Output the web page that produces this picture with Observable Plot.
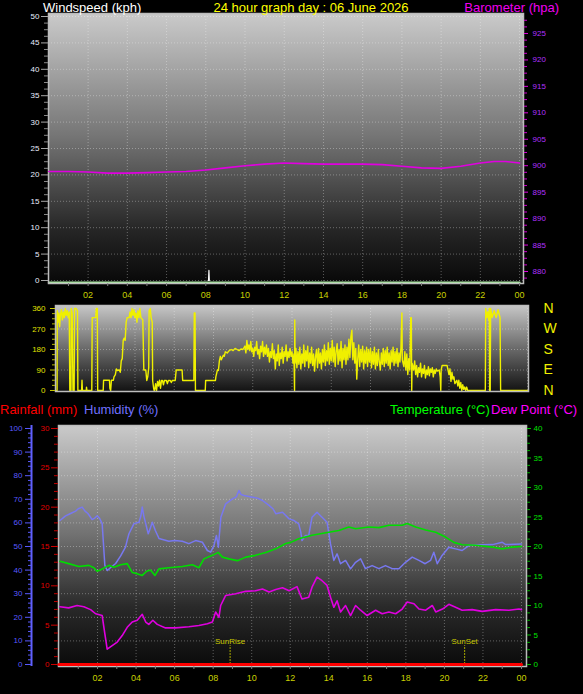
<!DOCTYPE html>
<html><head><meta charset="utf-8">
<script src="https://cdn.jsdelivr.net/npm/d3@7"></script>
<script src="https://cdn.jsdelivr.net/npm/@observablehq/plot@0.6"></script>
<style>
html,body{margin:0;padding:0;background:#000;}
#chart{position:relative;width:583px;height:694px;background:#000;overflow:hidden;font-family:"Liberation Sans",Arial,sans-serif;}
.lbl{position:absolute;font-size:13px;line-height:16px;white-space:nowrap;}
</style></head><body><div id="chart"></div>
<script>
// ---------- labels ----------
const titleText = "24 hour graph day : 06 June 2026";
const windTitle = "Windspeed (kph)";
const baroTitle = "Barometer (hpa)";
const rainTitle = "Rainfall (mm)";
const humTitle = "Humidity (%)";
const tempTitle = "Temperature (°C)";
const dewTitle = "Dew Point (°C)";

// ---------- ticks ----------
const hourTicks = [2,4,6,8,10,12,14,16,18,20,22,24];
const hourLabels = ["02","04","06","08","10","12","14","16","18","20","22","00"];
const hourMinor = [1,3,5,7,9,11,13,15,17,19,21,23];
const windTicks = [0,5,10,15,20,25,30,35,40,45,50];
const baroTicks = [880,885,890,895,900,905,910,915,920,925];
const dirTicks = [0,90,180,270,360];
const compassLabels = ["N","E","S","W","N"];
const humTicks = [0,10,20,30,40,50,60,70,80,90,100];
const rainTicks = [0,5,10,15,20,25,30];
const tempTicks = [0,5,10,15,20,25,30,35,40];

// ---------- top panel data ----------
const windAvgHours = [0, 24];
const windAvgValues = [0, 0];
const windGustHours = [8.14, 8.16, 8.18];
const windGustValues = [0, 1.9, 0];
const baroHours = [0,1,2,3,4,5,6,7,8,9,10,11,12,13,14,15,16,17,18,19,20,21,22,22.7,23.3,24];
const baroValues = [898.9,898.9,898.8,898.6,898.6,898.7,898.8,898.9,899.2,899.6,900.0,900.3,900.5,900.4,900.3,900.3,900.3,900.2,899.9,899.6,899.5,899.9,900.5,900.8,900.8,900.5];

// ---------- wind direction [hour, degrees] ----------
const windDirPoints = [
[0,0],[0.03,0],[0.04,350],[0.08,300],[0.12,340],[0.16,280],[0.2,330],[0.25,355],[0.3,310],[0.35,345],[0.4,320],[0.45,360],[0.5,330],[0.55,350],[0.6,320],[0.65,345],[0.68,0],[0.74,0],[0.75,360],[0.8,340],[0.84,0],[0.9,0],[0.92,360],[1.0,360],[1.07,350],[1.09,0],[1.28,0],[1.3,45],[1.32,0],[1.52,0],[1.53,15],[1.55,0],[1.8,0],[1.82,320],[2.0,320],[2.03,360],[2.08,360],[2.1,0],
[2.38,0],[2.4,45],[2.7,45],[2.72,10],[2.76,0],[2.8,45],[2.9,45],[2.93,60],[3.0,70],[3.05,95],[3.1,88],[3.2,90],[3.25,80],[3.3,130],[3.35,140],[3.4,220],[3.45,230],[3.5,220],[3.55,300],[3.6,320],[3.7,320],[3.75,345],[3.8,320],[3.85,360],[3.9,330],[3.95,355],[4.0,320],[4.05,340],[4.1,300],[4.15,350],[4.2,320],[4.25,360],[4.3,320],[4.4,310],[4.45,90],[4.55,90],[4.6,44],[4.65,60],[4.7,100],[4.72,350],[4.78,360],[4.82,320],[4.88,300],[4.9,44],[4.95,10],[4.98,0],
[5.0,0],[5.05,30],[5.1,0],[5.15,40],[5.2,20],[5.25,45],[5.3,10],[5.35,44],[5.4,44],[5.45,25],[5.5,44],[5.6,44],[5.65,30],[5.7,44],[5.8,44],[5.85,35],[5.9,44],[6.05,44],[6.1,90],[6.4,90],[6.43,44],[6.95,44],[7.0,44],[7.02,340],[7.06,340],[7.08,0],[7.58,0],[7.6,44],[8.1,44],
[8.12,60],[8.2,90],[8.25,88],[8.3,130],[8.35,150],[8.4,135],[8.5,155],[8.55,150],[8.6,170],[8.7,165],[8.8,175],[8.9,180],[9.0,175],[9.1,185],[9.2,180],[9.3,175],[9.4,182],[9.5,180],[9.6,195],[9.65,165],[9.7,220],[9.75,180],[9.8,200],[9.85,175],[9.9,215],[9.95,170],[10.0,185],[10.05,150],[10.1,190],[10.15,175],[10.2,215],[10.25,160],[10.3,180],[10.35,140],[10.4,195],[10.45,170],[10.5,215],[10.55,150],[10.6,190],[10.65,160],[10.7,200],[10.75,150],[10.8,185],[10.85,125],[10.9,170],[10.95,145],[11.0,205],[11.05,140],[11.1,175],[11.15,95],[11.2,160],[11.25,130],[11.3,200],[11.35,110],[11.4,165],[11.45,140],[11.5,190],[11.55,120],[11.6,170],[11.65,150],[11.7,200],[11.75,130],[11.8,170],[11.85,145],[11.9,185],[11.95,150],
[12.0,170],[12.05,120],[12.1,160],[12.13,0],[12.14,310],[12.16,120],[12.2,185],[12.25,100],[12.3,170],[12.35,115],[12.4,190],[12.45,95],[12.5,160],[12.55,120],[12.6,200],[12.65,105],[12.7,175],[12.75,130],[12.8,195],[12.85,100],[12.9,165],[12.95,120],[13.0,190],[13.05,110],[13.1,160],[13.15,85],[13.2,150],[13.25,180],[13.3,100],[13.35,185],[13.4,120],[13.45,165],[13.5,95],[13.55,180],[13.6,125],[13.65,200],[13.7,110],[13.75,175],[13.8,130],[13.85,210],[13.9,115],[13.95,185],[14.0,130],[14.05,220],[14.1,125],[14.15,190],[14.2,105],[14.25,175],[14.3,205],[14.35,115],[14.4,180],[14.45,130],[14.5,215],[14.55,100],[14.6,185],[14.65,135],[14.7,200],[14.75,115],[14.8,190],[14.85,135],[14.9,225],[14.95,145],[15.0,235],[15.05,265],[15.1,135],[15.15,210],[15.2,120],[15.25,185],[15.3,50],[15.35,140],[15.4,200],[15.45,105],[15.5,180],[15.55,125],[15.6,195],[15.65,95],[15.7,175],[15.75,120],[15.8,190],[15.85,105],[15.9,180],[15.95,125],[16.0,185],[16.05,100],[16.1,170],[16.15,115],[16.2,190],[16.25,95],[16.3,165],[16.35,110],[16.4,180],[16.45,125],[16.5,90],[16.55,165],[16.6,115],[16.65,185],[16.7,105],[16.75,175],[16.8,120],[16.85,190],[16.9,110],[16.95,165],[17.0,95],[17.05,175],[17.1,125],[17.15,190],[17.2,110],[17.25,170],[17.3,120],[17.35,185],[17.4,105],[17.45,165],[17.5,125],[17.55,185],[17.6,340],[17.62,135],[17.7,105],[17.75,170],[17.8,90],[17.85,160],[17.9,70],[17.95,140],[18.0,90],[18.05,320],[18.08,320],[18.1,0],[18.12,120],
[18.2,90],[18.25,130],[18.3,70],[18.35,110],[18.4,60],[18.45,100],[18.5,80],[18.55,120],[18.6,60],[18.65,95],[18.7,75],[18.75,110],[18.8,55],[18.85,90],[18.9,70],[18.95,105],[19.0,65],[19.05,95],[19.1,80],[19.15,100],[19.2,60],[19.25,90],[19.3,75],[19.35,95],[19.4,85],[19.5,90],[19.55,60],[19.58,0],[19.6,90],[19.65,110],[19.9,110],[19.95,90],[20.0,70],[20.05,95],[20.1,40],[20.15,80],[20.2,50],[20.25,60],[20.3,30],[20.4,45],[20.45,20],[20.5,45],[20.55,10],[20.6,35],[20.65,0],[20.7,25],[20.75,5],[20.8,15],[20.85,0],[20.9,15],[20.95,0],[21.85,0],[21.87,360],[21.92,320],[21.97,345],[22.02,310],[22.05,360],[22.07,0],[22.1,0],[22.12,360],[22.2,320],[22.3,350],[22.4,320],[22.5,355],[22.6,320],[22.63,0],[24,0]
];

// ---------- bottom panel data [hour, value] ----------
const humidityPoints = [
[0.05,61],[0.34,63],[0.6,64],[0.86,65],[1.0,66],[1.2,66.7],[1.35,65],[1.5,64],[1.72,61.4],[1.85,62],[1.98,63],[2.1,62],[2.24,59.7],[2.3,52],[2.38,42],[2.5,39.8],[2.67,41],[2.94,42.8],[3.2,46],[3.45,49.7],[3.55,53],[3.63,55.4],[3.89,59.7],[4.15,60.3],[4.25,63],[4.32,66.7],[4.4,63],[4.5,59.7],[4.63,55.4],[4.75,58],[4.84,60.3],[5.0,56.8],[5.19,53.4],[5.7,52.2],[6.0,52.5],[6.4,52.2],[6.74,51.2],[7.09,52.5],[7.44,51.8],[7.7,48.3],[7.87,47.6],[8.04,50.4],[8.17,54.7],[8.27,49.7],[8.4,62.4],[8.65,68.1],[9.0,70.2],[9.2,71],[9.34,73.7],[9.45,72],[9.6,71.6],[10.04,70.9],[10.3,70.5],[10.56,69.5],[10.9,67.4],[11.1,66],[11.25,63.9],[11.6,64.5],[11.94,61.7],[12.2,61],[12.44,59.6],[12.55,56],[12.61,52.5],[12.79,54.7],[12.96,54.7],[13.13,62.4],[13.39,64.5],[13.65,62.4],[13.91,60.3],[14.09,51.1],[14.26,44.1],[14.43,46.9],[14.61,42.7],[14.87,44.1],[15.13,40.5],[15.39,43.3],[15.65,44.8],[15.9,40.6],[16.25,41.9],[16.6,40.6],[16.94,41.9],[17.29,40.6],[17.64,40.6],[17.98,43.3],[18.33,45.5],[18.68,44.1],[19.0,42.7],[19.28,44.1],[19.45,47.6],[19.63,42.7],[19.88,46.2],[20.23,49.7],[20.58,49.0],[20.92,48.3],[21.27,50.4],[21.96,50.7],[22.5,50.8],[23.0,51.8],[23.18,50.8],[24.0,51.1]
];
const temperaturePoints = [
[0.05,17.5],[0.5,17.1],[1.03,16.6],[1.55,16.8],[1.81,16.4],[1.98,15.8],[2.24,16.2],[2.59,16.8],[2.85,16.5],[3.2,16.9],[3.54,17.1],[3.8,15.6],[4.05,15.4],[4.32,15.1],[4.55,15.8],[4.75,16.0],[4.98,15.1],[5.19,16.2],[5.7,16.4],[6.4,16.6],[6.92,16.9],[7.26,16.4],[7.52,17.9],[7.96,18.5],[8.27,19.0],[8.48,18.2],[8.82,17.9],[9.26,17.6],[9.69,18.2],[10.2,18.5],[10.73,19.0],[11.25,19.6],[11.77,20.5],[12.03,20.7],[12.44,21.3],[13.13,21.9],[14.0,22.4],[14.52,22.7],[15.04,23.3],[15.39,23.0],[16.08,23.3],[16.6,23.2],[17.12,23.6],[17.81,23.6],[18.07,23.9],[18.51,23.3],[19.03,22.8],[19.55,22.4],[20.06,21.6],[20.49,20.7],[20.92,20.3],[21.62,20.2],[22.48,19.9],[23.0,19.6],[23.52,19.9],[24.0,20.0]
];
const dewPointPoints = [
[0.05,9.8],[0.5,9.6],[0.94,10.0],[1.29,9.8],[1.64,9.3],[1.9,8.6],[2.24,8.3],[2.38,5.2],[2.5,2.6],[2.76,3.2],[3.02,3.8],[3.28,4.9],[3.54,6.3],[3.8,7.2],[4.06,7.5],[4.32,8.5],[4.5,7.2],[4.66,6.8],[4.87,7.5],[5.1,6.8],[5.53,6.2],[6.05,6.2],[6.74,6.4],[7.26,6.6],[7.7,6.9],[7.96,7.2],[8.13,8.9],[8.3,8.0],[8.39,10.0],[8.65,11.7],[9.17,12.0],[9.69,12.4],[10.2,12.5],[10.56,12.8],[10.9,12.3],[11.25,12.7],[11.6,13.0],[11.94,12.5],[12.35,13.2],[12.61,11.1],[12.96,11.4],[13.13,13.1],[13.39,14.8],[13.65,14.2],[13.91,13.4],[14.09,11.4],[14.26,9.7],[14.43,10.8],[14.61,8.9],[14.87,10.0],[15.13,8.3],[15.39,10.0],[15.65,9.2],[15.99,8.3],[16.43,9.2],[16.77,8.6],[17.12,8.9],[17.47,8.6],[17.81,9.4],[18.07,10.6],[18.42,10.3],[18.68,9.4],[19.03,9.2],[19.37,10.0],[19.55,8.9],[19.9,9.4],[20.23,10.2],[20.58,9.7],[20.92,9.2],[21.44,9.3],[21.96,9.0],[22.66,9.3],[23.35,9.2],[23.87,9.4],[24.0,9.3]
];
const rainHours = [0, 24];
const rainValues = [0, 0];
const sunHours = [8.88, 21.05];
const sunLabels = ["SunRise", "SunSet"];

// ---------- helpers ----------
const W = 583;
const FONT = '"Liberation Sans", Arial, sans-serif';
const chart = document.getElementById("chart");
const NS = "http://www.w3.org/2000/svg";
const pts = (hs, vs) => hs.map((h, i) => [h, vs[i]]);
const hourFmt = d => hourLabels[hourTicks.indexOf(d)];
const minor = (a, b, step, majors) => d3.range(a, b + 1e-9, step).filter(v => !majors.some(m => Math.abs(m - v) < 1e-6));
const blank = () => "";

function place(svg, top, grad) {
  svg.style.position = "absolute";
  svg.style.left = "0px";
  svg.style.top = top + "px";
  if (grad) {
    const defs = document.createElementNS(NS, "defs");
    const lg = document.createElementNS(NS, "linearGradient");
    lg.setAttribute("id", grad.id);
    lg.setAttribute("x1", "0"); lg.setAttribute("y1", "0");
    lg.setAttribute("x2", "0"); lg.setAttribute("y2", "1");
    for (const [o, c] of grad.stops) {
      const s = document.createElementNS(NS, "stop");
      s.setAttribute("offset", o); s.setAttribute("stop-color", c);
      lg.appendChild(s);
    }
    defs.appendChild(lg);
    svg.insertBefore(defs, svg.firstChild);
  }
  chart.appendChild(svg);
}
function panel(opts, top, grad) {
  const svg = Plot.plot({
    width: W,
    style: {background: "transparent", fontFamily: FONT, fontSize: "8px", overflow: "visible"},
    ...opts
  });
  place(svg, top, grad);
}
function label(text, css) {
  const d = document.createElement("div");
  d.className = "lbl";
  d.textContent = text;
  Object.assign(d.style, css);
  chart.appendChild(d);
}
const grid = {stroke: "#ffffff", strokeOpacity: 0.32, strokeDasharray: "1,2"};

// ---------- TOP PANEL ----------
const TOPM = {height: 300, marginTop: 13, marginBottom: 17, marginLeft: 48, marginRight: 60};
const xTop = [-0.02, 24.2];
panel({
  ...TOPM,
  x: {domain: xTop, label: null},
  y: {domain: [-0.57, 50.57], label: null},
  marks: [
    Plot.frame({fill: "url(#gTop)"}),
    Plot.gridY({ticks: windTicks, ...grid}),
    Plot.gridX({ticks: hourTicks, ...grid}),
    Plot.line(pts(windAvgHours, windAvgValues), {x: "0", y: "1", stroke: "#a8e8a0", strokeWidth: 2.2, dy: 2}),
    Plot.line(pts(windGustHours, windGustValues), {x: "0", y: "1", stroke: "#ffffff", strokeWidth: 1.2}),
    Plot.frame({stroke: "#bdbdbd", strokeWidth: 1.5}),
    Plot.axisY({ticks: minor(0, 50, 1.25, windTicks), tickSize: 4, tickFormat: blank, stroke: "#8a8a8a"}),
    Plot.axisY({ticks: windTicks, tickSize: 7, tickPadding: 2, stroke: "#a8a8a8", fill: "#e8eeff", fontSize: 8}),
    Plot.axisX({ticks: hourMinor, tickSize: 3, tickFormat: blank, stroke: "#808080"}),
    Plot.axisX({ticks: hourTicks, tickSize: 3, tickPadding: 5, tickFormat: hourFmt, stroke: "#808080", fill: "#c8d000", fontSize: 9})
  ]
}, 0, {id: "gTop", stops: [[0, "#cacaca"], [0.45, "#767676"], [0.8, "#262626"], [1, "#080808"]]});

panel({
  ...TOPM,
  x: {domain: xTop, axis: null},
  y: {domain: [877.73, 928.78], label: null},
  marks: [
    Plot.line(pts(baroHours, baroValues), {x: "0", y: "1", stroke: "#e000e0", strokeWidth: 1.6}),
    Plot.axisY({anchor: "right", ticks: minor(878.75, 928, 1.25, baroTicks), tickSize: 3, tickFormat: blank, stroke: "#d000d0"}),
    Plot.axisY({anchor: "right", ticks: baroTicks, tickSize: 4, tickPadding: 5, stroke: "#e000e0", fill: "#b030ff", fontSize: 8})
  ]
}, 0);

// ---------- MIDDLE PANEL ----------
panel({
  height: 105, marginTop: 10, marginBottom: 9, marginLeft: 55, marginRight: 55,
  x: {domain: [-0.05, 24.05], axis: null},
  y: {domain: [-4.4, 373.2], label: null},
  marks: [
    Plot.frame({fill: "url(#gMid)"}),
    Plot.gridY({ticks: [90, 180, 270], ...grid}),
    Plot.gridX({ticks: hourTicks, ...grid}),
    Plot.line(windDirPoints, {x: "0", y: "1", stroke: "#f0f000", strokeWidth: 1.4}),
    Plot.frame({stroke: "#bdbdbd", strokeWidth: 1.5}),
    Plot.axisY({ticks: minor(0, 360, 22.5, dirTicks), tickSize: 3, tickFormat: blank, stroke: "#b8b800"}),
    Plot.axisY({ticks: dirTicks, tickSize: 5, tickPadding: 5, stroke: "#c8c800", fill: "#e0e000", fontSize: 8}),
    Plot.axisY({anchor: "right", ticks: dirTicks, tickSize: 0, tickPadding: 15, tickFormat: d => compassLabels[dirTicks.indexOf(d)], fill: "#f0f000", fontSize: 14})
  ]
}, 295, {id: "gMid", stops: [[0, "#c6c6c6"], [0.5, "#6a6a6a"], [1, "#121212"]]});

// ---------- BOTTOM PANEL ----------
const BOTM = {height: 279, marginTop: 10, marginBottom: 28, marginLeft: 58, marginRight: 57};
const xBot = [-0.026, 24.26];
const humDomain = [-0.85, 101.27];
panel({
  ...BOTM,
  x: {domain: xBot, label: null},
  y: {domain: humDomain, label: null, axis: null},
  marks: [
    Plot.frame({fill: "url(#gBot)"}),
    Plot.gridY({ticks: [10, 20, 30, 40, 50, 60, 70, 80, 90], ...grid}),
    Plot.gridX({ticks: hourTicks, ...grid}),
    Plot.ruleX(sunHours, {x: d => d, y1: 0, y2: 8, stroke: "#a8a800", strokeDasharray: "2,1"}),
    Plot.text(sunHours, {x: d => d, y: 9.9, text: (d, i) => sunLabels[i], fill: "#c8c800", fontSize: 8}),
    Plot.line(humidityPoints, {x: "0", y: "1", stroke: "#7878f0", strokeWidth: 1.5}),
    Plot.frame({stroke: "#bdbdbd", strokeWidth: 1.5}),
    Plot.axisX({ticks: hourMinor, tickSize: 3, tickFormat: blank, stroke: "#808080"}),
    Plot.axisX({ticks: hourTicks, tickSize: 3, tickPadding: 5, tickFormat: hourFmt, stroke: "#808080", fill: "#c8d000", fontSize: 9})
  ]
}, 415, {id: "gBot", stops: [[0, "#cacaca"], [0.45, "#727272"], [0.75, "#2a2a2a"], [1, "#0a0a0a"]]});

panel({
  ...BOTM,
  x: {domain: xBot, axis: null},
  y: {domain: [-0.255, 30.381], label: null},
  marks: [
    Plot.line(pts(rainHours, rainValues), {x: "0", y: "1", stroke: "#ff0000", strokeWidth: 3}),
    Plot.axisY({ticks: minor(0, 30, 1, rainTicks), tickSize: 4, tickFormat: blank, stroke: "#c00000"}),
    Plot.axisY({ticks: rainTicks, tickSize: 7, tickPadding: 2, stroke: "#d00000", fill: "#e00000", fontSize: 8})
  ]
}, 415);

panel({
  ...BOTM,
  x: {domain: xBot, axis: null},
  y: {domain: [-0.34, 40.508], label: null},
  marks: [
    Plot.line(temperaturePoints, {x: "0", y: "1", stroke: "#00dd00", strokeWidth: 1.6}),
    Plot.line(dewPointPoints, {x: "0", y: "1", stroke: "#e000e0", strokeWidth: 1.6}),
    Plot.axisY({anchor: "right", ticks: minor(0, 40, 1.25, tempTicks), tickSize: 3, tickFormat: blank, stroke: "#00b000"}),
    Plot.axisY({anchor: "right", ticks: tempTicks, tickSize: 4, tickPadding: 3, stroke: "#00c000", fill: "#00e000", fontSize: 8})
  ]
}, 415);

panel({
  height: 279, marginTop: 10, marginBottom: 28, marginLeft: 31, marginRight: 57,
  x: {domain: [0, 1], axis: null},
  y: {domain: humDomain, label: null},
  marks: [
    Plot.ruleX([0], {stroke: "#6060ff", strokeWidth: 2}),
    Plot.axisY({ticks: minor(0, 100, 2, humTicks), tickSize: 3, tickFormat: blank, stroke: "#5a5aff"}),
    Plot.axisY({ticks: humTicks, tickSize: 6, tickPadding: 3, stroke: "#5a5aff", fill: "#5a5aff", fontSize: 8})
  ]
}, 415);

// ---------- header / legend texts ----------
label(windTitle, {left: "43px", top: "0px", color: "#ffffff"});
label(titleText, {left: "161px", width: "300px", top: "0px", textAlign: "center", color: "#ffff00"});
label(baroTitle, {left: "400px", width: "159px", top: "0px", textAlign: "right", color: "#f000f0"});
label(rainTitle, {left: "0px", top: "402px", color: "#ff0000"});
label(humTitle, {left: "84px", top: "402px", color: "#7070ff"});
label(tempTitle, {left: "390px", top: "402px", color: "#00ff00"});
label(dewTitle, {left: "491px", top: "402px", color: "#ff00ff"});
</script></body></html>
